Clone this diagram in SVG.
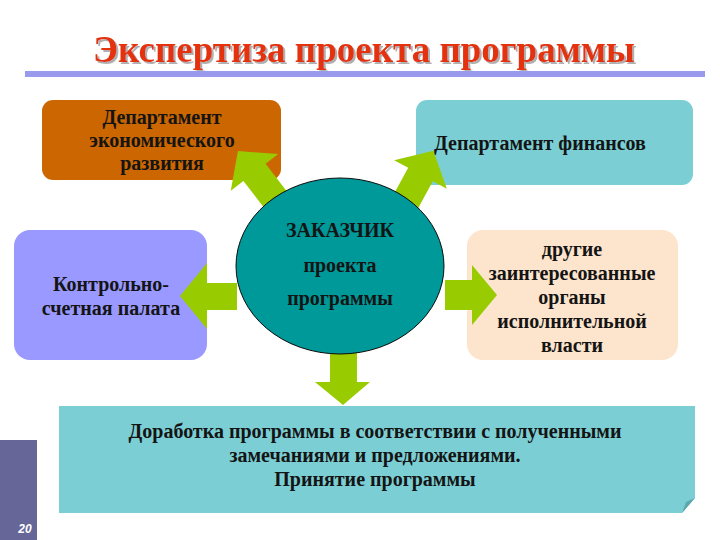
<svg xmlns="http://www.w3.org/2000/svg" width="720" height="540" viewBox="0 0 720 540">
<style>
.t{font-family:"Liberation Serif","DejaVu Serif",serif;font-weight:bold;fill:#141414;text-anchor:middle}
.f20{font-size:20px}
.arr{fill:#99cc00}
</style>
<defs>
<path id="arrowShape" d="M0,-14 H45 V-30 L72,0 L45,30 V14 H0 Z"/>
<filter id="shadow" x="-5%" y="-20%" width="110%" height="140%">
<feDropShadow dx="2" dy="2" stdDeviation="0.6" flood-color="#b0b0b0" flood-opacity="1"/>
</filter>
</defs>
<rect width="720" height="540" fill="#ffffff"/>
<g id="title">
<text x="364" y="62" class="t" filter="url(#shadow)" style="font-size:37px;fill:#e3320d">Экспертиза проекта программы</text>
<rect x="25" y="71" width="680" height="6" fill="#9999ee"/>
</g>
<g id="page">
<rect x="0" y="440" width="37" height="100" fill="#666699"/>
<text x="25" y="533" style="font-family:'Liberation Sans',Arial,sans-serif;font-size:12px;font-style:italic;font-weight:bold;fill:#ffffff;text-anchor:middle">20</text>
</g>
<g id="dept-econ">
<rect x="42" y="100" width="239" height="80" rx="11" fill="#cc6600"/>
<text class="t f20" x="162" y="124">Департамент</text>
<text class="t f20" x="162" y="147">экономического</text>
<text class="t f20" x="162" y="170">развития</text>
</g>
<g id="dept-fin">
<rect x="416" y="100" width="277" height="85" rx="11" fill="#7bcfd4"/>
<text class="t f20" x="540" y="150">Департамент финансов</text>
</g>
<g id="audit">
<rect x="14" y="230" width="193" height="130" rx="16" fill="#9999ff"/>
<text class="t f20" x="111" y="291">Контрольно-</text>
<text class="t f20" x="111" y="315">счетная палата</text>
</g>
<g id="others">
<rect x="467" y="230" width="211" height="130" rx="16" fill="#fde4cc"/>
<text class="t f20" x="572" y="256">другие</text>
<text class="t f20" x="572" y="280">заинтересованные</text>
<text class="t f20" x="572" y="304">органы</text>
<text class="t f20" x="572" y="328">исполнительной</text>
<text class="t f20" x="572" y="352">власти</text>
</g>
<g id="result">
<path d="M59,406 H695 V498 L682,513 H59 Z" fill="#7bcfd4"/>
<path d="M695,498 L686,502 L682,513 Z" fill="#5fa7ad"/>
<text class="t f20" x="375" y="438">Доработка программы в соответствии с полученными</text>
<text class="t f20" x="375" y="462">замечаниями и предложениями.</text>
<text class="t f20" x="375" y="486">Принятие программы</text>
</g>
<g id="connectors">
<use href="#arrowShape" class="arr" transform="translate(282,208) rotate(-127.7)"/>
<use href="#arrowShape" class="arr" transform="translate(399,214) rotate(-61.5)"/>
<polygon class="arr" points="237,283 207,283 207,263 180,296 207,329 207,310 237,310"/>
<polygon class="arr" points="445,280 472,280 472,265 497,295 472,325 472,310 445,310"/>
<polygon class="arr" points="330,350 357,350 357,382 370,382 343,405 315,382 330,382"/>
</g>
<g id="customer">
<ellipse cx="340" cy="266" rx="104" ry="88" fill="#009999" stroke="#0a0a0a" stroke-width="1"/>
<text class="t f20" x="340" y="237">ЗАКАЗЧИК</text>
<text class="t f20" x="340" y="272">проекта</text>
<text class="t f20" x="340" y="305">программы</text>
</g>
</svg>
